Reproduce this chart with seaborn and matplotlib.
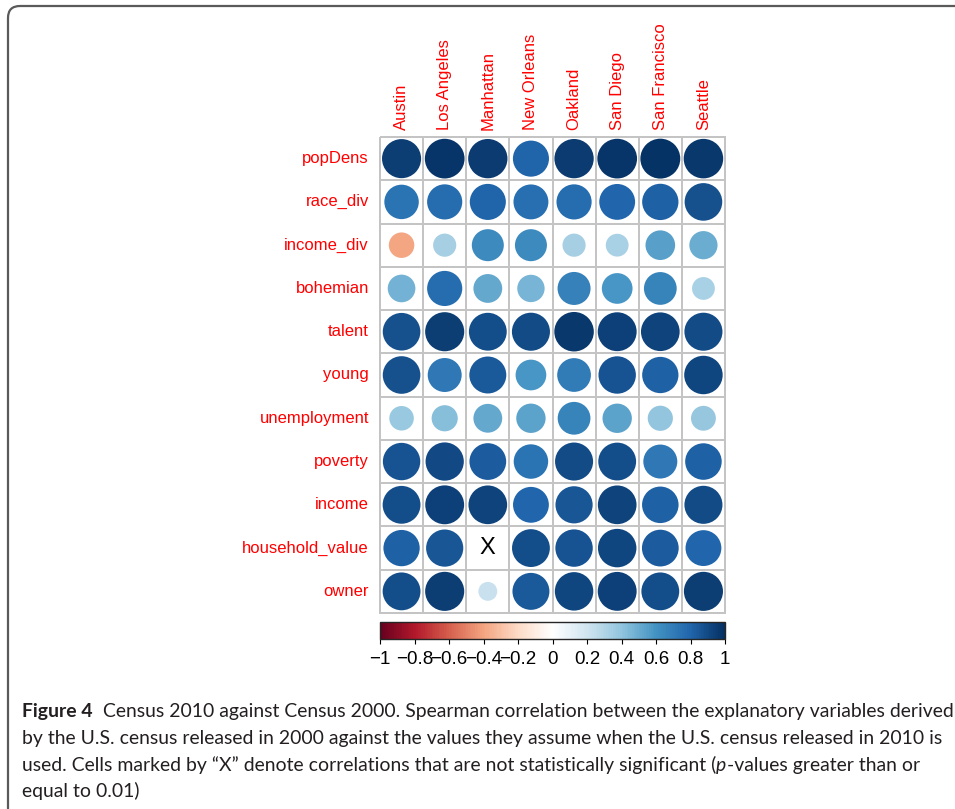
import numpy as np
import pandas as pd
import seaborn as sns
import matplotlib
matplotlib.use("Agg")
import matplotlib.pyplot as plt
from matplotlib.colors import LinearSegmentedColormap, ListedColormap, Normalize
from matplotlib.patches import Ellipse, FancyBboxPatch
from matplotlib.transforms import IdentityTransform
import matplotlib.cm as cm

# ---------------- data ----------------
cities = ["Austin", "Los Angeles", "Manhattan", "New Orleans", "Oakland",
          "San Diego", "San Francisco", "Seattle"]
variables = ["popDens", "race_div", "income_div", "bohemian", "talent", "young",
             "unemployment", "poverty", "income", "household_value", "owner"]

popDens         = [0.94, 0.97, 0.95, 0.80, 0.95, 0.97, 0.98, 0.96]
race_div        = [0.73, 0.76, 0.80, 0.75, 0.76, 0.79, 0.81, 0.87]
income_div      = [-0.40, 0.33, 0.63, 0.63, 0.33, 0.32, 0.54, 0.49]
bohemian        = [0.47, 0.76, 0.51, 0.46, 0.67, 0.58, 0.66, 0.32]
talent          = [0.87, 0.94, 0.88, 0.89, 0.96, 0.93, 0.92, 0.89]
young           = [0.87, 0.71, 0.84, 0.58, 0.70, 0.86, 0.81, 0.91]
unemployment    = [0.37, 0.42, 0.51, 0.53, 0.66, 0.53, 0.39, 0.38]
poverty         = [0.86, 0.90, 0.83, 0.73, 0.89, 0.88, 0.71, 0.82]
income          = [0.88, 0.93, 0.92, 0.79, 0.85, 0.92, 0.82, 0.89]
household_value = [0.81, 0.85, 0.03, 0.88, 0.86, 0.91, 0.83, 0.79]
owner           = [0.88, 0.94, 0.22, 0.84, 0.91, 0.93, 0.88, 0.94]

insignificant = [("household_value", "Manhattan")]

cbar_ticks = [-1, -0.8, -0.6, -0.4, -0.2, 0, 0.2, 0.4, 0.6, 0.8, 1]
cbar_labels = ["\u22121", "\u22120.8", "\u22120.6", "\u22120.4", "\u22120.2", "0",
               "0.2", "0.4", "0.6", "0.8", "1"]

corr = pd.DataFrame([popDens, race_div, income_div, bohemian, talent, young,
                     unemployment, poverty, income, household_value, owner],
                    index=variables, columns=cities)

caption_lines = [
    [("Figure 4", "bold", "normal"),
     ("  Census 2010 against Census 2000. Spearman correlation between the explanatory variables derived", "normal", "normal")],
    [("by the U.S. census released in 2000 against the values they assume when the U.S. census released in 2010 is", "normal", "normal")],
    [("used. Cells marked by \u201cX\u201d denote correlations that are not statistically significant (", "normal", "normal"),
     ("p", "normal", "italic"),
     ("-values greater than or", "normal", "normal")],
    [("equal to 0.01)", "normal", "normal")],
]

# ---------------- style ----------------
sns.set_style("white")
plt.rcParams["font.family"] = ["Liberation Sans", "DejaVu Sans"]

W, H = 955, 809
fig = plt.figure(figsize=(W / 100, H / 100), dpi=100)
fig.patch.set_facecolor("white")

cmap = LinearSegmentedColormap.from_list(
    "corrRdBu", ["#67001F", "#B2182B", "#D6604D", "#F4A582", "#FDDBC7", "#FFFFFF",
                 "#D1E5F0", "#92C5DE", "#4393C3", "#2166AC", "#053061"], N=200)
norm = Normalize(-1, 1)

# grid
gl, gr, gt, gb = 380, 725, 137, 613
ax = fig.add_axes([gl / W, 1 - gb / H, (gr - gl) / W, (gb - gt) / H])
blank = pd.DataFrame(0.0, index=variables, columns=cities)
sns.heatmap(blank, ax=ax, cmap=ListedColormap(["white"]), cbar=False,
            linewidths=1.3, linecolor="#c4c4c4", square=False)
ax.collections[0].set_clip_on(False)
ax.set_aspect("auto")

cw = (gr - gl) / len(cities)
ch = (gb - gt) / len(variables)
for i, var in enumerate(variables):
    for j, city in enumerate(cities):
        r = corr.loc[var, city]
        d = 0.935 * np.sqrt(abs(r))
        e = Ellipse((j + 0.5, i + 0.5), width=d, height=d * cw / ch,
                    facecolor=cmap(norm(r)), edgecolor="none", zorder=3)
        ax.add_patch(e)
for var, city in insignificant:
    ax.text(cities.index(city) + 0.5, variables.index(var) + 0.5, "X",
            ha="center", va="center", fontsize=17, color="black", zorder=4)

ax.xaxis.tick_top()
ax.set_xticks(np.arange(len(cities)) + 0.5)
ax.set_xticklabels(cities, rotation=90, color="red", fontsize=12)
ax.set_yticks(np.arange(len(variables)) + 0.5)
ax.set_yticklabels(variables, rotation=0, color="red", fontsize=12)
ax.tick_params(axis="x", length=0, pad=5)
ax.tick_params(axis="y", length=0, pad=8)
ax.set_xlabel("")
ax.set_ylabel("")

# colorbar
cax = fig.add_axes([gl / W, 1 - 639 / H, (gr - gl) / W, 17 / H])
cb = fig.colorbar(cm.ScalarMappable(norm=norm, cmap=cmap), cax=cax,
                  orientation="horizontal")
cb.set_ticks(cbar_ticks)
cb.set_ticklabels(cbar_labels)
cb.outline.set_linewidth(1.0)
cax.tick_params(axis="x", length=3.5, width=0.8, direction="out", pad=5,
                labelsize=13.5, colors="black")

# border box
box = FancyBboxPatch((8, -60), 1100, H - 6 + 60, boxstyle="round,pad=0,rounding_size=12",
                     transform=IdentityTransform(), facecolor="none",
                     edgecolor="#5a5a5a", linewidth=1.6)
fig.add_artist(box)

# caption
cap_font = ["Lato", "DejaVu Sans"]
renderer = fig.canvas.get_renderer()
x0 = 22
target_w = 950 - x0


def line_width(pieces, fs):
    tot = 0
    for txt, wt, st in pieces:
        t = fig.text(0, 0, txt, fontsize=fs, fontweight=wt, fontstyle=st, family=cap_font)
        tot += t.get_window_extent(renderer).width
        t.remove()
    return tot


fs = 12.0
fs = fs * target_w / line_width(caption_lines[0], fs)
baselines = [717, 744, 771, 797]
for pieces, yb in zip(caption_lines, baselines):
    x = x0
    for txt, wt, st in pieces:
        t = fig.text(x / W, 1 - yb / H, txt, fontsize=fs, fontweight=wt, fontstyle=st,
                     family=cap_font, color="#231f20", va="baseline", ha="left")
        x += t.get_window_extent(renderer).width

fig.savefig("out.png", dpi=100)
